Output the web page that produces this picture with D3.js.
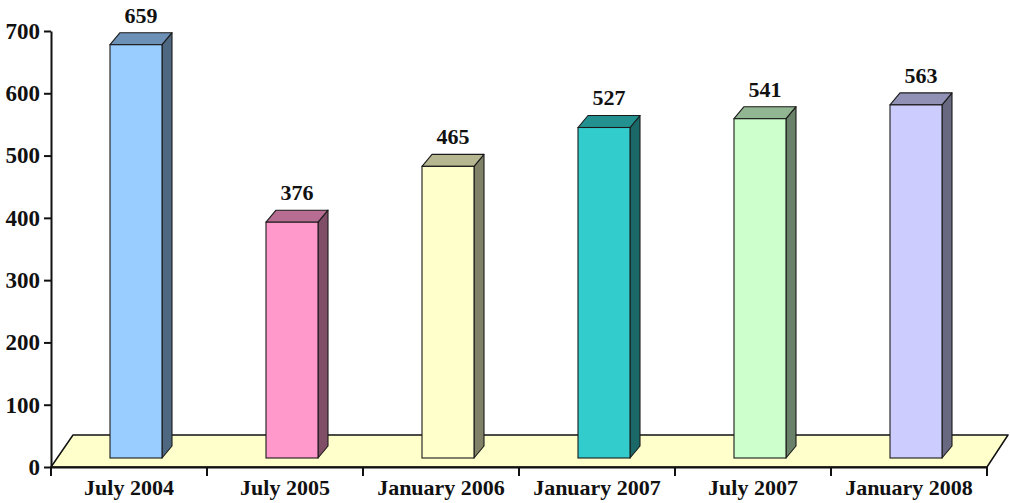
<!DOCTYPE html>
<html>
<head>
<meta charset="utf-8">
<script src="https://cdn.jsdelivr.net/npm/d3@7"></script>
<style>
  body { margin: 0; background: #fff; }
  text { font-family: "Liberation Serif", "Times New Roman", serif; font-weight: bold; fill: #111; }
</style>
</head>
<body>
<script>
// data
const categories = ["July 2004", "July 2005", "January 2006", "January 2007", "July 2007", "January 2008"];
const values = [659, 376, 465, 527, 541, 563];
const barColors = ["#99CCFF", "#FF99CC", "#FFFFCC", "#33CCCC", "#CCFFCC", "#CCCCFF"];
const yTicks = [0, 100, 200, 300, 400, 500, 600, 700];

const svgWidth = 1010, svgHeight = 503;
const plotLeft = 51, plotRight = 987, plotBottom = 467, plotTop = 31;

// floor depth and bar depth offsets
const floorDx = 21, floorDy = -32;
const shiftX = 7, shiftY = -9;
const depthX = 10, depthY = -12;

const xScale = d3.scaleBand().domain(categories).range([plotLeft, plotRight]);
const yScale = d3.scaleLinear().domain([0, 700]).range([plotBottom, plotTop]);
// bars sit a bit into the floor, front plane scale
const barScale = d3.scaleLinear().domain([0, 700]).range([plotBottom + shiftY, plotBottom + shiftY - 439]);

const svg = d3.select('body').append('svg')
  .attr('width', svgWidth)
  .attr('height', svgHeight);

// floor
svg.append('path')
  .attr('d', `M${plotLeft},${plotBottom} L${plotRight},${plotBottom} L${plotRight + floorDx},${plotBottom + floorDy} L${plotLeft + floorDx + 1},${plotBottom + floorDy} Z`)
  .attr('fill', '#FFFFCC')
  .attr('stroke', '#111')
  .attr('stroke-width', 1.5)
  .attr('stroke-linejoin', 'round');

/*
 * bars
 */
const barW = xScale.bandwidth() / 3;
const bars = svg.selectAll('g.bar')
  .data(categories.map((c, i) => ({ c: c, v: values[i], col: barColors[i] })))
  .enter().append('g')
  .attr('class', 'bar');

const fx = d => xScale(d.c) + xScale.bandwidth() / 2 - barW / 2 + shiftX;
const fy0 = barScale(0);

// side face
bars.append('path')
  .attr('d', d => {
    const x1 = fx(d) + barW, yt = barScale(d.v);
    return `M${x1},${yt} L${x1 + depthX},${yt + depthY} L${x1 + depthX},${fy0 + depthY} L${x1},${fy0} Z`;
  })
  .attr('fill', d => d3.color(d.col).darker(1.9))
  .attr('stroke', '#1a1a1a')
  .attr('stroke-width', 1.1)
  .attr('stroke-linejoin', 'round');

// top face
bars.append('path')
  .attr('d', d => {
    const x0 = fx(d), yt = barScale(d.v);
    return `M${x0},${yt} L${x0 + barW},${yt} L${x0 + barW + depthX},${yt + depthY} L${x0 + depthX},${yt + depthY} Z`;
  })
  .attr('fill', d => d3.color(d.col).darker(0.95))
  .attr('stroke', '#1a1a1a')
  .attr('stroke-width', 1.1)
  .attr('stroke-linejoin', 'round');

// front face
bars.append('rect')
  .attr('x', d => fx(d))
  .attr('y', d => barScale(d.v))
  .attr('width', barW)
  .attr('height', d => fy0 - barScale(d.v))
  .attr('fill', d => d.col)
  .attr('stroke', '#1a1a1a')
  .attr('stroke-width', 1.1);

// value labels
bars.append('text')
  .attr('x', d => fx(d) + barW / 2 + depthX / 2)
  .attr('y', d => barScale(d.v) + depthY - 10)
  .attr('text-anchor', 'middle')
  .style('font-size', '22px')
  .text(d => d.v);

/*
 * axes
 */
const yAxis = svg.append('g')
  .attr('transform', `translate(${plotLeft},0)`)
  .call(d3.axisLeft(yScale).tickValues(yTicks).tickSize(7).tickSizeOuter(0).tickPadding(4));
yAxis.select('.domain').attr('stroke', '#111').attr('stroke-width', 2);
yAxis.selectAll('.tick line').attr('stroke', '#111').attr('stroke-width', 2);
yAxis.selectAll('.tick text').style('font-size', '23px').attr('fill', '#111');

const xAxis = svg.append('g')
  .attr('transform', `translate(0,${plotBottom})`)
  .call(d3.axisBottom(xScale).tickSize(0).tickSizeOuter(0).tickPadding(12));
xAxis.select('.domain').attr('stroke', '#111').attr('stroke-width', 2);
xAxis.selectAll('.tick text').style('font-size', '22px').attr('fill', '#111');

// boundary ticks between categories
const bounds = categories.map(c => xScale(c)).concat([plotRight]);
svg.append('g').selectAll('line')
  .data(bounds).enter().append('line')
  .attr('x1', d => d).attr('x2', d => d)
  .attr('y1', plotBottom).attr('y2', plotBottom + 9)
  .attr('stroke', '#111')
  .attr('stroke-width', 2);
</script>
</body>
</html>
